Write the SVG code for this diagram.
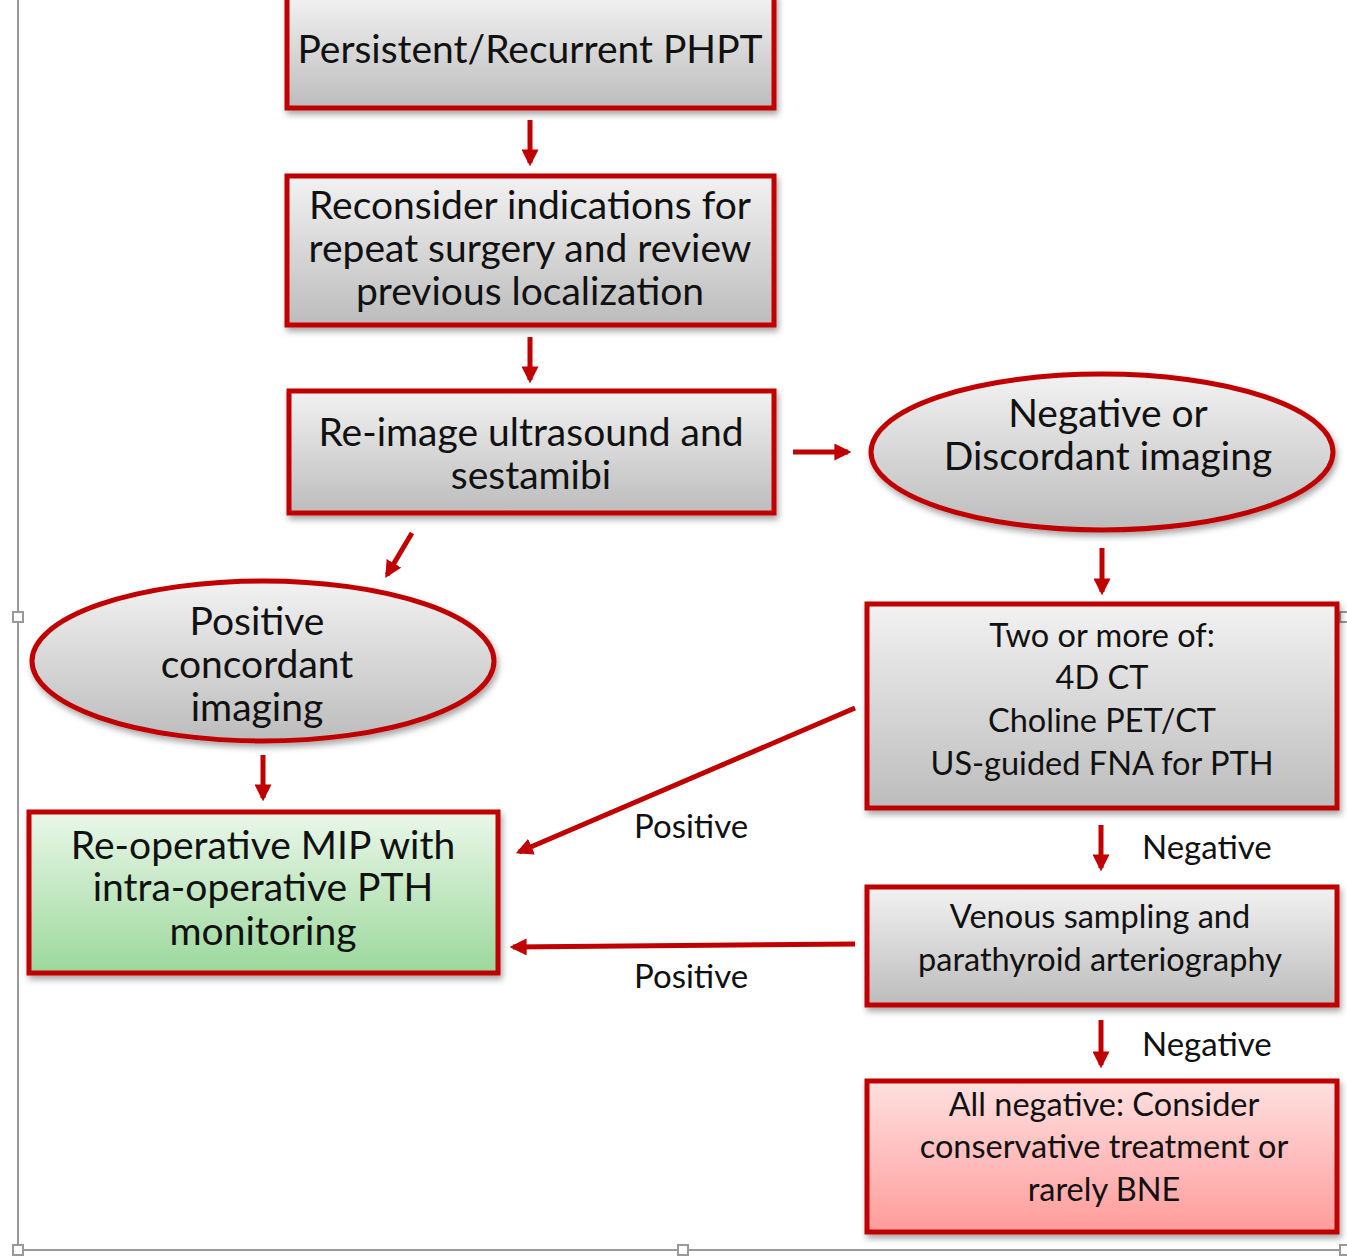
<svg xmlns="http://www.w3.org/2000/svg" width="1347" height="1260" viewBox="0 0 1347 1260">
<style>
.box{stroke:#c00000;stroke-width:5;filter:url(#sh)}
.gray{fill:url(#gg)}
.green{fill:url(#gr)}
.red{fill:url(#rd)}
.t{font-family:"Lato","Liberation Sans",sans-serif;fill:#111;text-anchor:middle}
.big{font-size:39px}
.mid{font-size:32.5px}
.lbl{font-family:"Lato","Liberation Sans",sans-serif;fill:#111;font-size:33px}
.c{stroke:#c00000;stroke-width:5;fill:none;marker-end:url(#ah)}
.frame{stroke:#999;stroke-width:2;fill:none}
.hd{fill:#fff;stroke:#999;stroke-width:2}
</style>
<defs>
<linearGradient id="gg" x1="0" y1="0" x2="0" y2="1"><stop offset="0" stop-color="#f2f2f2"/><stop offset="1" stop-color="#bcbcbc"/></linearGradient>
<linearGradient id="gr" x1="0" y1="0" x2="0" y2="1"><stop offset="0" stop-color="#eaf7ea"/><stop offset="1" stop-color="#9bd89b"/></linearGradient>
<linearGradient id="rd" x1="0" y1="0" x2="0" y2="1"><stop offset="0" stop-color="#ffe0e0"/><stop offset="1" stop-color="#ff9b9b"/></linearGradient>
<filter id="sh" x="-10%" y="-10%" width="120%" height="130%"><feDropShadow dx="2" dy="4" stdDeviation="3" flood-color="#000" flood-opacity="0.35"/></filter>
<marker id="ah" viewBox="0 0 10 10" refX="8" refY="5" markerWidth="3.4" markerHeight="3.4" orient="auto" markerUnits="strokeWidth"><path d="M0,0 L10,5 L0,10 z" fill="#c00000"/></marker>
</defs>
<g id="frame">
<path class="frame" d="M18,0 V1250 H1345"/>
<rect class="hd" x="13" y="612" width="10" height="10"/>
<rect class="hd" x="678" y="1245" width="10" height="10"/>
<rect class="hd" x="13" y="1245" width="10" height="10"/>
<rect class="hd" x="1340" y="612" width="10" height="10"/>
<rect class="hd" x="1340" y="1245" width="10" height="10"/>
</g>
<g id="n1"><rect class="box gray" x="287" y="-5" width="487" height="113"/><text class="t big" x="530" y="63">Persistent/Recurrent PHPT</text></g>
<g id="n2"><rect class="box gray" x="287" y="176" width="487" height="149"/><text class="t big" x="530" y="219">Reconsider indications for</text><text class="t big" x="530" y="262">repeat surgery and review</text><text class="t big" x="530" y="305">previous localization</text></g>
<g id="n3"><rect class="box gray" x="289" y="391" width="485" height="122"/><text class="t big" x="531" y="446">Re-image ultrasound and</text><text class="t big" x="531" y="489">sestamibi</text></g>
<g id="n4"><ellipse class="box gray" cx="1102" cy="452" rx="231" ry="78"/><text class="t big" x="1108" y="427">Negative or</text><text class="t big" x="1108" y="470">Discordant imaging</text></g>
<g id="n5"><ellipse class="box gray" cx="263" cy="661" rx="231" ry="80"/><text class="t big" x="257" y="635">Positive</text><text class="t big" x="257" y="678">concordant</text><text class="t big" x="257" y="721">imaging</text></g>
<g id="n6"><rect class="box green" x="29" y="812" width="469" height="161"/><text class="t big" x="263" y="859">Re-operative MIP with</text><text class="t big" x="263" y="901">intra-operative PTH</text><text class="t big" x="263" y="945">monitoring</text></g>
<g id="n7"><rect class="box gray" x="867" y="604" width="470" height="204"/><text class="t mid" x="1102" y="647">Two or more of:</text><text class="t mid" x="1102" y="689">4D CT</text><text class="t mid" x="1102" y="732">Choline PET/CT</text><text class="t mid" x="1102" y="775">US-guided FNA for PTH</text></g>
<g id="n8"><rect class="box gray" x="867" y="887" width="470" height="118"/><text class="t mid" x="1100" y="928">Venous sampling and</text><text class="t mid" x="1100" y="971">parathyroid arteriography</text></g>
<g id="n9"><rect class="box red" x="867" y="1081" width="470" height="151"/><text class="t mid" x="1104" y="1116">All negative: Consider</text><text class="t mid" x="1104" y="1158">conservative treatment or</text><text class="t mid" x="1104" y="1201">rarely BNE</text></g>
<g id="connectors">
<path class="c" d="M530,120 V163"/>
<path class="c" d="M530,337 V380"/>
<path class="c" d="M793,452 H848"/>
<path class="c" d="M412,533 L387,575"/>
<path class="c" d="M263,755 V798"/>
<path class="c" d="M1102,548 V592"/>
<path class="c" d="M855,708 L519,852"/>
<path class="c" d="M1101,825 V868"/>
<path class="c" d="M855,944 L513,947"/>
<path class="c" d="M1101,1020 V1065"/>
<text class="lbl" x="634" y="838">Positive</text>
<text class="lbl" x="1142" y="859">Negative</text>
<text class="lbl" x="634" y="988">Positive</text>
<text class="lbl" x="1142" y="1056">Negative</text>
</g>
</svg>
